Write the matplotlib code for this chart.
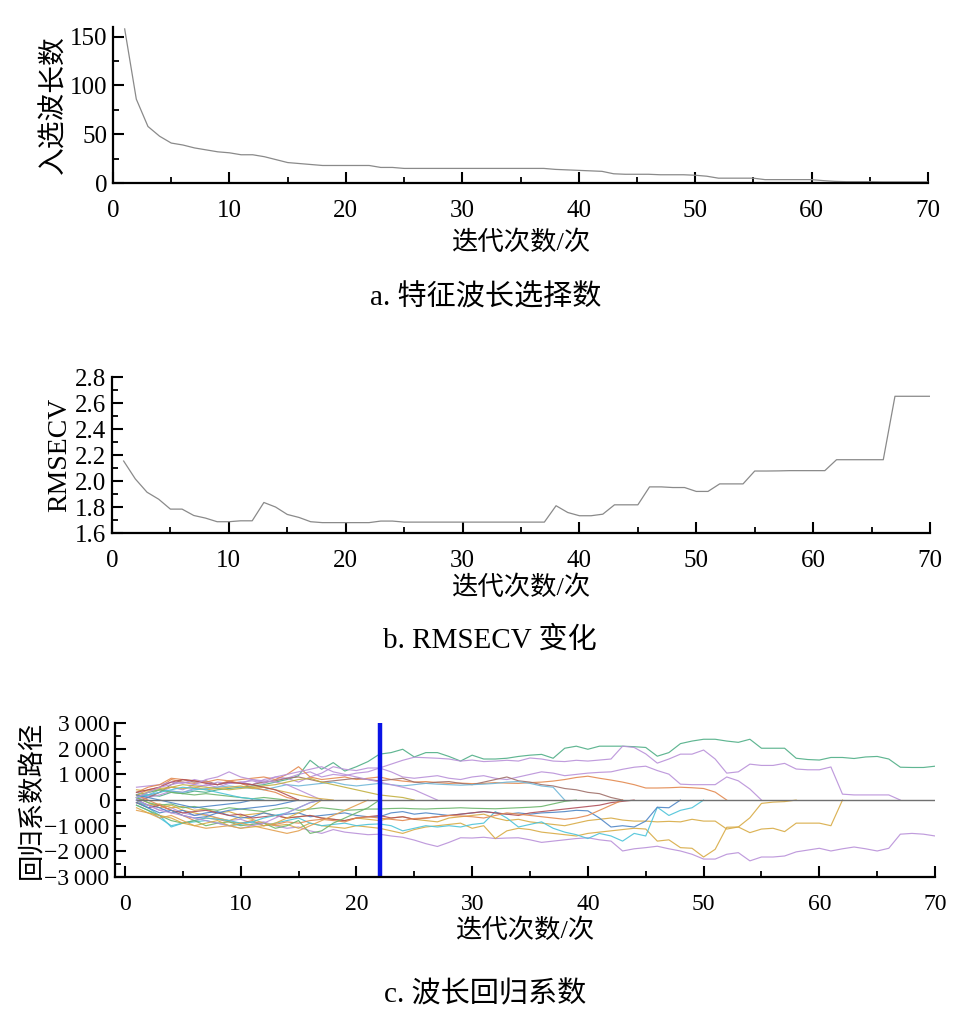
import numpy as np
import matplotlib
matplotlib.use('Agg')
import matplotlib.pyplot as plt
from matplotlib.ticker import MultipleLocator, FuncFormatter

plt.rcParams['font.family'] = ['Liberation Serif', 'Noto Sans CJK SC']
plt.rcParams['axes.unicode_minus'] = True

# a. number of selected wavelengths per iteration
iters = np.arange(1, 71)
n_wave = [158, 86, 58, 48, 41, 39, 36, 34, 32, 31, 29, 29, 27, 24, 21, 20, 19, 18, 18, 18,
          18, 18, 16, 16, 15, 15, 15, 15, 15, 15, 15, 15, 15, 15, 15, 15, 15, 14, 13.5, 13,
          12.5, 12, 9.5, 9, 9, 9, 8.5, 8.5, 8.5, 8, 7, 5, 5, 5, 5, 3.5, 3.5, 3.5, 3.5, 3.5,
          2.5, 1.7, 1.4, 1.4, 1.4, 1.2, 1.2, 1.2, 1.2, 1.2]

# b. RMSECV per iteration
rmsecv = [2.154, 2.016, 1.914, 1.86, 1.784, 1.784, 1.735, 1.715, 1.687, 1.687,
          1.694, 1.694, 1.835, 1.80, 1.743, 1.72, 1.687, 1.68, 1.68, 1.68,
          1.68, 1.68, 1.692, 1.692, 1.684, 1.684, 1.684, 1.684, 1.684, 1.684,
          1.684, 1.684, 1.684, 1.684, 1.684, 1.684, 1.684, 1.81, 1.758, 1.733,
          1.733, 1.745, 1.817, 1.817, 1.817, 1.955, 1.955, 1.95, 1.95, 1.92,
          1.92, 1.978, 1.978, 1.978, 2.077, 2.077, 2.078, 2.08, 2.08, 2.08,
          2.08, 2.164, 2.164, 2.164, 2.164, 2.164, 2.652, 2.652, 2.652, 2.652]

# c. regression coefficient paths (each path starts at iteration 1)
paths = {
    'p1': [100, 200, 150, 300, 250, 350, 300, 400, 450, 500, 550, 600, 700, 800, 950, 1550, 1200, 1460, 1130, 1300,
           1500, 1790, 1850, 1980, 1680, 1850, 1850, 1700, 1520, 1750, 1600, 1600, 1630, 1700, 1750, 1780, 1630, 2020, 2100, 1980,
           2100, 2100, 2100, 2080, 2050, 1710, 1850, 2200, 2300, 2370, 2370, 2300, 2250, 2370, 2020, 2020, 2020, 1630, 1580, 1560,
           1660, 1660, 1620, 1680, 1700, 1600, 1280, 1270, 1270, 1320],
    'p2': [50, 150, 300, 500, 400, 600, 550, 700, 650, 700, 600, 800, 900, 850, 700, 900, 1050, 1300, 1200, 1150,
           1250, 1250, 1400, 1550, 1670, 1650, 1630, 1600, 1520, 1560, 1500, 1520, 1550, 1520, 1640, 1600, 1520, 1500, 1550, 1520,
           1560, 1600, 2100, 2050, 1800, 1440, 1600, 1790, 1790, 1950, 1600, 1050, 1100, 1400, 1350, 1350, 1430, 1210, 1180, 1180,
           1290, 230, 200, 200, 200, 200, 0],
    'p3': [0, 100, 200, 350, 300, 450, 600, 500, 650, 700, 750, 650, 800, 850, 1000, 1100, 900, 1000, 950, 1050,
           1100, 1250, 1100, 900, 850, 900, 950, 850, 800, 900, 950, 850, 800, 900, 1000, 1100, 1050, 950, 1000, 1050,
           1080, 1100, 1200, 1280, 1320, 1150, 1010, 620, 600, 600, 600, 900, 750, 430, 0],
    'p4': [200, 400, 500, 800, 700, 650, 700, 600, 750, 800, 850, 900, 800, 1000, 1300, 900, 800, 850, 900, 800,
           850, 900, 800, 740, 700, 720, 680, 650, 660, 640, 650, 680, 660, 650, 680, 700, 740, 800, 880, 930,
           850, 780, 700, 600, 470, 470, 480, 500, 480, 450, 310, 0],
    'p5': [-100, 100, 300, 600, 800, 700, 750, 600, 700, 650, 600, 700, 750, 850, 900, 800, 700, 750, 800, 850,
           800, 750, 800, 850, 700, 650, 700, 720, 650, 600, 700, 800, 900, 750, 700, 600, 550, 450, 400, 300,
           250, 100, 0],
    'p6': [300, 200, 400, 350, 300, 400, 450, 500, 550, 500, 450, 400, 500, 600, 550, 600, 650, 700, 600, 550,
           600, 650, 600, 550, 600, 650, 620, 600, 580, 600, 620, 650, 700, 720, 650, 550, 500, 0],
    'n1': [0, -200, -400, -300, -500, -600, -550, -700, -800, -750, -900, -850, -1000, -1100, -1050, -1200, -1300, -1150, -1250, -1300,
           -1350, -1330, -1400, -1450, -1560, -1700, -1810, -1650, -1470, -1480, -1450, -1500, -1480, -1470, -1550, -1650, -1600, -1550, -1500, -1470,
           -1550, -1600, -1985, -1900, -1855, -1800, -1900, -1985, -2113, -2300, -2300, -2113, -2050, -2370, -2220, -2220, -2180, -2020, -1950, -1880,
           -1985, -1900, -1830, -1900, -1985, -1880, -1330, -1300, -1330, -1400],
    'n2': [100, -100, -300, -200, -400, -500, -600, -700, -800, -650, -750, -900, -1000, -950, -1100, -900, -1000, -1050, -1100, -1000,
           -1050, -1100, -1200, -1300, -1150, -1050, -1000, -950, -900, -1100, -1000, -1500, -1200, -1100, -1150, -1250, -1300, -1350, -1400, -1300,
           -1250, -1200, -1150, -1100, -1130, -1600, -1550, -1855, -1880, -2220, -1920, -1060, -1050, -690, -130, -80, -60, 0],
    'n3': [-100, -200, -150, -300, -250, -400, -350, -500, -450, -600, -550, -500, -600, -700, -650, -600, -700, -750, -800, -700,
           -750, -800, -700, -650, -750, -800, -850, -700, -650, -600, -550, -700, -800, -750, -850, -900, -950, -1000, -900, -800,
           -750, -700, -780, -820, -820, -850, -830, -850, -750, -820, -820, -1130, -1050, -1270, -1130, -1100, -1230, -900, -900, -900,
           -1000, 0],
    'n4': [-200, -400, -700, -1000, -900, -850, -800, -900, -1000, -950, -850, -1000, -900, -800, -700, -900, -1000, -950, -900, -1000,
           -950, -930, -1000, -1200, -1100, -1000, -1050, -1000, -1050, -950, -900, -450, -700, -1050, -950, -850, -1100, -1250, -1350, -1500,
           -1300, -1400, -1600, -1300, -1400, -280, -600, -400, -300, 0],
    'n5': [0, -200, -300, -500, -400, -600, -500, -450, -600, -700, -650, -500, -600, -550, -500, -650, -600, -550, -500, -600,
           -650, -650, -500, -450, -550, -500, -550, -600, -550, -500, -450, -500, -550, -500, -550, -500, -480, -450, -400, -420,
           -700, -1050, -1000, -1050, -820, -280, -300, 0],
    'n6': [100, -100, -200, -150, -300, -250, -350, -400, -300, -350, -400, -450, -350, -300, -400, -350, -300, -350, -400, -380,
           -350, -350, -330, -320, -340, -350, -330, -320, -300, -320, -330, -340, -320, -300, -280, -250, -150, -50, 0],
    'n7': [-100, -300, -200, -400, -500, -450, -400, -500, -600, -550, -700, -650, -600, -700, -650, -600, -700, -750, -800, -700,
           -650, -600, -700, -650, -750, -700, -650, -600, -550, -500, -450, -500, -550, -600, -500, -450, -400, -350, -300, -250,
           -200, -100, -50, 0],
    'n8': [200, 0, -200, -400, -600, -800, -700, -750, -850, -900, -800, -1000, -950, -850, -900, -800, -750, -800, -850, -700,
           -650, -700, -750, -800, -720, -700, -650, -600, -620, -650, -700, -600, -500, -550, -600, -650, -700, -750, -700, -600,
           -400, -200, 0],
    's1': [500, 550, 600, 700, 650, 800, 700, 600, 700, 650, 800, 750, 700, 600, 400, 200, 0],
    's2': [300, 500, 600, 850, 800, 750, 700, 800, 750, 650, 500, 400, 300, 100, 0],
    's3': [400, 350, 450, 500, 450, 500, 400, 450, 500, 550, 450, 500, 400, 300, 200, 100, 50, 0],
    's4': [200, 300, 400, 500, 600, 550, 500, 450, 400, 450, 500, 550, 600, 700, 800, 850, 700, 600, 500, 400,
           300, 200, 150, 100, 0],
    's5': [100, 300, 400, 300, 250, 200, 250, 200, 150, 100, 50, 100, 50, 0],
    's6': [0, -300, -600, -1050, -900, -800, -700, -750, -800, -900, -850, -700, -600, -500, -300, -100, 0],
    's7': [-100, -300, -500, -400, -600, -700, -650, -500, -400, -350, -300, -250, -200, -100, 0],
    's8': [-200, -400, -600, -800, -900, -800, -1000, -900, -850, -1000, -950, -900, -1100, -1000, -800, -1300, -1200, -900, -700, -500,
           -300, 0],
    's9': [-400, -500, -700, -600, -800, -1000, -1100, -1050, -1000, -900, -1000, -1100, -1200, -1300, -1200, -1000, -800, -600, -400, -200, 0],
    's10': [100, 200, 300, 400, 500, 450, 400, 300, 200, 100, 50, 0],
    's11': [200, 100, 0, -100, -200, -300, -250, -200, -150, -100, 0],
    's12': [300, 400, 500, 700, 800, 750, 650, 600, 700, 650, 600, 500, 400, 200, 0],
    's13': [0, -200, -400, -500, -600, -700, -800, -900, -1000, -1100, -1000, -900, -700, -500, -300, -100, 0],
    's14': [-300, -500, -600, -700, -900, -1000, -900, -800, -1000, -1100, -1050, -1000, -900, -700, -500, -300, 0],
    's15': [100, 300, 500, 600, 700, 600, 800, 900, 1100, 900, 800, 700, 900, 1000, 1100, 1200, 1300, 1100, 1000, 900,
            800, 700, 600, 500, 400, 200, 0],
}
path_colors = {
    'p1': '#4fae86', 'p2': '#b991d9', 'p3': '#b991d9', 'p4': '#e3894f', 'p5': '#a0706a', 'p6': '#6fb6d8',
    'n1': '#b991d9', 'n2': '#d8ab45', 'n3': '#d8ab45', 'n4': '#4cc3d9', 'n5': '#4f86c6', 'n6': '#6cb56c',
    'n7': '#b0505a', 'n8': '#e3894f',
    's1': '#b991d9', 's2': '#e3894f', 's3': '#d8ab45', 's4': '#c2b040', 's5': '#6cb56c', 's6': '#4cc3d9',
    's7': '#4f86c6', 's8': '#6cb56c', 's9': '#e3a050', 's10': '#4cc3d9', 's11': '#4f86c6', 's12': '#b0505a',
    's13': '#b991d9', 's14': '#d8ab45', 's15': '#b991d9',
}
best_iter = 22

x_label = '迭代次数/次'
captions = ['a. 特征波长选择数', 'b. RMSECV 变化', 'c. 波长回归系数']


def style_axis(ax, tick_size):
    for s in ['top', 'right']:
        ax.spines[s].set_visible(False)
    for s in ['left', 'bottom']:
        ax.spines[s].set_linewidth(1.6)
    ax.tick_params(which='major', direction='in', length=8, width=1.5, labelsize=tick_size)
    ax.tick_params(which='minor', direction='in', length=4.5, width=1.3)
    ax.tick_params(axis='x', pad=12)
    ax.tick_params(axis='y', pad=4)
    ax.xaxis.set_major_locator(MultipleLocator(10))
    ax.xaxis.set_minor_locator(MultipleLocator(5))


fig = plt.figure(figsize=(9.71, 10.33), dpi=100)

# panel a
ax1 = fig.add_axes([0.1164, 0.8228, 0.8393, 0.1511])
ax1.plot(iters, n_wave, color='#8a8a8a', lw=0.9)
ax1.set_xlim(0, 70)
ax1.set_ylim(0, 160)
ax1.yaxis.set_major_locator(MultipleLocator(50))
ax1.yaxis.set_minor_locator(MultipleLocator(25))
style_axis(ax1, 18)
ax1.set_xlabel(x_label, fontsize=19, labelpad=6)
ax1.set_ylabel('入选波长数', fontsize=20, labelpad=2)

# panel b
ax2 = fig.add_axes([0.1153, 0.484, 0.8425, 0.151])
ax2.plot(iters, rmsecv, color='#8a8a8a', lw=0.9)
ax2.set_xlim(0, 70)
ax2.set_ylim(1.6, 2.8)
ax2.yaxis.set_major_locator(MultipleLocator(0.2))
ax2.yaxis.set_minor_locator(MultipleLocator(0.1))
ax2.yaxis.set_major_formatter(FuncFormatter(lambda v, p: '%.1f' % v))
style_axis(ax2, 18)
ax2.set_xlabel(x_label, fontsize=19, labelpad=3)
ax2.set_ylabel('RMSECV', fontsize=20, labelpad=2)

# panel c
ax3 = fig.add_axes([0.1184, 0.151, 0.8446, 0.149])
for key, vals in paths.items():
    ax3.plot(iters[:len(vals)], vals, color=path_colors[key], lw=0.85, alpha=0.9)
ax3.hlines(0, iters[0], iters[-1], color='#707070', lw=1.0)
ax3.axvline(best_iter, color='#0a14e6', lw=3.2)
ax3.set_xlim(-0.86, 70)
ax3.set_ylim(-3000, 3000)
ax3.yaxis.set_major_locator(MultipleLocator(1000))
ax3.yaxis.set_minor_locator(MultipleLocator(500))


def thousands(v, p):
    v = int(round(v))
    s = '{:,}'.format(abs(v)).replace(',', '\u2009')
    return ('\u2212' + s) if v < 0 else s


ax3.yaxis.set_major_formatter(FuncFormatter(thousands))
style_axis(ax3, 17)
ax3.set_xlabel(x_label, fontsize=19, labelpad=3)
ax3.set_ylabel('回归系数路径', fontsize=19, labelpad=0)

# captions
fig.text(0.5, 1 - 298 / 1033, captions[0], ha='center', va='center', fontsize=21)
fig.text(0.505, 1 - 640 / 1033, captions[1], ha='center', va='center', fontsize=21)
fig.text(0.5, 1 - 995 / 1033, captions[2], ha='center', va='center', fontsize=21)

fig.savefig('out.png', dpi=100)
